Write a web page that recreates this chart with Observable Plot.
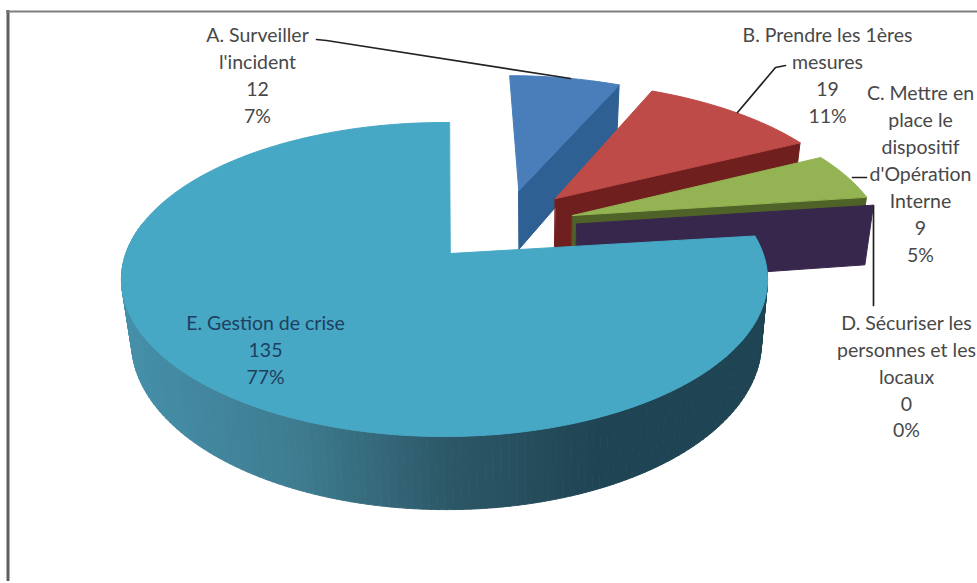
<!DOCTYPE html>
<html>
<head>
<meta charset="utf-8">
<script src="https://cdn.jsdelivr.net/npm/d3@7"></script>
<script src="https://cdn.jsdelivr.net/npm/@observablehq/plot@0.6"></script>
<style>
html,body{margin:0;padding:0;background:#fff}
svg{display:block}
</style>
</head>
<body>
<div id="chart"></div>
<script>
// data
const categories = ["A. Surveiller\nl'incident", "B. Prendre les 1ères\nmesures", "C. Mettre en\nplace le\ndispositif\nd'Opération\nInterne", "D. Sécuriser les\npersonnes et les\nlocaux", "E. Gestion de crise"];
const counts = [12, 19, 9, 0, 135];

// styles and layout
const topColors = ["#4a7ebb", "#be4b48", "#94b454", "#7d5fa0", "#46a8c5"];
const wallColors = ["#2f6094", "#701f1f", "#4f6228", "#38274c", "#1f4453"];
const explodeU = [0.23, 0.35, 0.4, 0.41, 0];
const explodeV = [0.4426, 0.383, 0.26, 0.2, 0];
const labelX = [257, 827, 920, 906, 265];
const labelY = [73.5, 73.5, 172, 374.5, 348];
const labelColors = ["#484848", "#484848", "#484848", "#484848", "#1f3f60"];
const leaders = [
  [[316, 39], [326, 40], [570, 78]],
  [[785, 65], [775, 67], [737, 112]],
  [[852, 177], [866, 177]],
  [[873, 205], [873, 305]]
];
const sideStops = [[127, "#4590aa"], [300, "#3e7c90"], [450, "#2c5767"], [600, "#1f4453"], [770, "#1f4453"]];

// perspective of the pie
const total = d3.sum(counts);
const apexX = 450, apexY = 253, rimX = 444;
const K = 318.6, M = 152.7, C = 0.1656, DEPTH = 63, DEPTH_E = 61, SHRINK = 0.975, LOWER_SHIFT = 2;
const project = (u, v, lower, cx = apexX, depth = DEPTH) => {
  const w = 1 + C * v;
  const sx = K * u / w;
  return [cx + (lower ? LOWER_SHIFT + sx * SHRINK : sx), apexY - M * v / w + (lower ? depth / w : 0)];
};
const rad = (share) => share * 2 * Math.PI;

// angular extents computed from the counts
let acc = 0;
const slices = counts.map((c, i) => {
  const s = { i, start: acc / total, end: (acc + c) / total };
  acc += c;
  return s;
});

const polygons = [];
const push = (pts, color) => polygons.push({ pts, color });

// exploded slices A-D, back to front
slices.slice(0, 4).forEach((s) => {
  const du = explodeU[s.i], dv = explodeV[s.i];
  const at = (t, lower) => project(du + Math.sin(rad(t)), dv + Math.cos(rad(t)), lower);
  const apex = (lower) => project(du, dv, lower);
  push([apex(false), at(s.end, false), at(s.end, true), apex(true)], wallColors[s.i]);
  if (s.end > s.start) {
    const rim = d3.range(0, 31).map((k) => at(s.start + (s.end - s.start) * k / 30, false));
    push([apex(false), ...rim], topColors[s.i]);
  }
});

// slice E: outer wall in shaded strips, then top face
const e = slices[4];
const side = d3.scaleLinear().domain(sideStops.map((d) => d[0])).range(sideStops.map((d) => d[1])).clamp(true);
const tilt = 1 / 360;
const rimAt = (t, lower) => project(Math.sin(rad(t + tilt)), Math.cos(rad(t + tilt)), lower, rimX, DEPTH_E);
const STEPS = 280;
const STRIPS = 160;
// only the strips that face the viewer are drawn, from the right edge to the left one
d3.range(STRIPS).forEach((k) => {
  const a = e.start + (0.78 - e.start) * k / STRIPS;
  const b = e.start + (0.78 - e.start) * (k + 1) / STRIPS;
  const p = rimAt((a + b) / 2, true);
  const arc = d3.range(0, 4).map((j) => a + (b - a) * j / 3);
  push([...arc.map((t) => rimAt(t, false)), ...arc.reverse().map((t) => rimAt(t, true))], side(p[0]));
});
const topRim = d3.range(STEPS + 1).map((k) => rimAt(e.start + (e.end - e.start) * k / STEPS, false));
push([[apexX, apexY], ...topRim], topColors[4]);

const polys = polygons.flatMap((p, id) => p.pts.map(([x, y]) => ({ id, x, y, color: p.color })));

const labels = categories.map((c, i) => ({
  x: labelX[i], y: labelY[i], color: labelColors[i],
  text: `${c}\n${counts[i]}\n${d3.format(".0%")(counts[i] / total)}`
}));
const leaderRows = leaders.flatMap((l, id) => l.map(([x, y]) => ({ id, x, y })));

const FS = 19.5;
const chart = Plot.plot({
  width: 977, height: 583,
  margin: 0,
  style: { background: "#fff", fontFamily: "Lato, sans-serif" },
  x: { domain: [0, 977], range: [0, 977], axis: null },
  y: { domain: [0, 583], range: [0, 583], axis: null },
  color: { type: "identity" },
  marks: [
    Plot.ruleX([7.5], { y1: 10, y2: 581, stroke: "#5f5f5f", strokeWidth: 3 }),
    Plot.ruleY([11], { x1: 6, x2: 977, stroke: "#7f7f7f", strokeWidth: 2 }),
    Plot.line(polys, {
      x: "x", y: "y", z: "id", fill: "color", stroke: "color",
      strokeWidth: 1, curve: "linear-closed"
    }),
    Plot.line(leaderRows, { x: "x", y: "y", z: "id", stroke: "#222", strokeWidth: 1.7 }),
    Plot.text(labels, {
      x: "x", y: "y", text: "text", fill: "color",
      fontSize: FS, lineHeight: 26.9 / FS, textAnchor: "middle", lineAnchor: "middle"
    })
  ]
});
document.getElementById("chart").appendChild(chart);
</script>
</body>
</html>
